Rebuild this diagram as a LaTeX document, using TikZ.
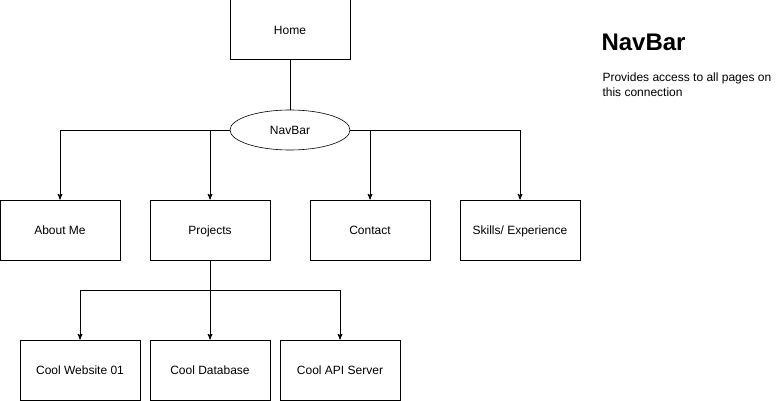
\documentclass[tikz,border=0pt]{standalone}
\usepackage{fontspec}
\setmainfont{Liberation Sans}
\usetikzlibrary{arrows,positioning,shapes.geometric}

\begin{document}
\begin{tikzpicture}[x=1pt, y=-1pt, >=stealth', line width=1pt, font=\fontsize{12}{14}\selectfont]
\tikzstyle{page}=[draw, rectangle, minimum width=120pt, minimum height=60pt, inner sep=0pt, text height=8.6pt, text depth=0pt]
\tikzstyle{menu}=[draw, ellipse, minimum width=120pt, minimum height=40pt, inner sep=0pt, line width=0.6pt, text height=8.6pt, text depth=0pt]
\useasboundingbox (0,0) rectangle (781,401);

\node[page] (home) at (290,30) {Home};
\node[menu] (navbar) at (290,130) {NavBar};

\tikzstyle{every node}=[node distance=150pt]
\node[page] (about) at (60,230) {About Me};
\node[page] (projects) [right of=about] {Projects};
\node[page] (contact) [right of=projects, node distance=160pt] {Contact};
\node[page] (skills) [right of=contact] {Skills/ Experience};

\tikzstyle{every node}=[node distance=130pt]
\node[page] (web) at (80,370) {Cool Website 01};
\node[page] (db) [right of=web] {Cool Database};
\node[page] (api) [right of=db] {Cool API Server};

\coordinate (split) at (210,290);

% connections
\draw (home) -- (navbar);
\draw[->] (navbar.west) -| (about.north);
\draw[->] (navbar.west) -| (projects.north);
\draw[->] (navbar.east) -| (contact.north);
\draw[->] (navbar.east) -| (skills.north);
\draw (projects.south) -- (split);
\draw[->] (split) -| (web.north);
\draw[->] (split) -- (db.north);
\draw[->] (split) -| (api.north);

% side note
\node[anchor=base west, inner sep=0pt, font=\fontsize{24}{28}\selectfont\bfseries] (title) at (601,51) {NavBar};
\node[anchor=base west, inner sep=0pt, align=left, font=\fontsize{12}{15}\selectfont] (note) at (602,97) {Provides access to all pages on\\this connection};
\end{tikzpicture}
\end{document}
